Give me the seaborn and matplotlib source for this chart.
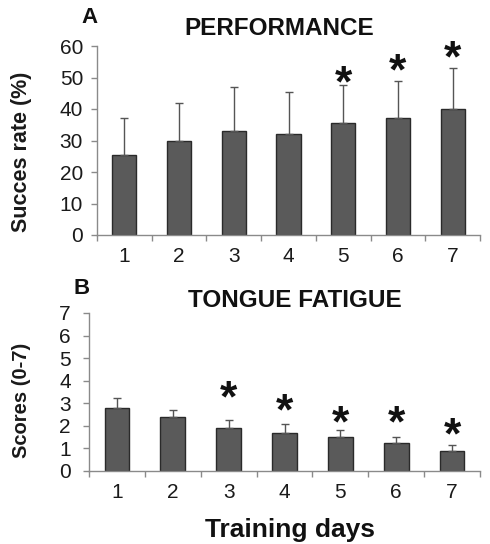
import matplotlib
matplotlib.use("Agg")
import matplotlib.pyplot as plt
import matplotlib.transforms as mtransforms
import seaborn as sns
import numpy as np
import pandas as pd

days = ["1", "2", "3", "4", "5", "6", "7"]
perf_mean = [25.5, 30, 33, 32, 35.5, 37, 40]
perf_sd = [11.5, 12, 14, 13.5, 12, 12, 13]
perf_star_days = ["5", "6", "7"]
perf_star_y = [50.8, 54.6, 58.7]

fat_mean = [2.8, 2.4, 1.9, 1.7, 1.5, 1.25, 0.9]
fat_sd = [0.45, 0.3, 0.35, 0.4, 0.3, 0.25, 0.25]
fat_star_days = ["3", "4", "5", "6", "7"]
fat_star_y = [3.58, 3.0, 2.5, 2.5, 1.96]

sns.set_theme(style="white")
plt.rcParams['font.family'] = ['Liberation Sans', 'DejaVu Sans']

W, H = 490, 544
fig = plt.figure(figsize=(4.9, 5.44), dpi=100)
axA = fig.add_axes([97 / W, 1 - 235 / H, 383 / W, 189 / H])
axB = fig.add_axes([89 / W, 1 - 471 / H, 391 / W, 158 / H])

bar_color = "#5a5a5a"
spine_color = "#8a8a8a"
text_color = "#1a1a1a"


def panel(ax, mean, sd, star_days, star_y, ymax, ystep, ypad):
    df = pd.DataFrame({"day": days, "val": mean})
    sns.barplot(data=df, x="day", y="val", ax=ax, color=bar_color, width=0.44,
                edgecolor="#2a2a2a", linewidth=1.0, saturation=1)
    xs = np.arange(len(days))
    ax.errorbar(xs, mean, yerr=[np.zeros(len(sd)), sd], fmt="none", ecolor="#555555",
                elinewidth=1.0, capsize=3, capthick=1.0, zorder=1)
    star_tr = mtransforms.offset_copy(ax.transData, fig=fig, x=0, y=-10, units="dots")
    for d, y in zip(star_days, star_y):
        ax.text(days.index(d), y, "*", ha="center", va="center", fontsize=32,
                fontweight="bold", color="#111111", transform=star_tr)
    ax.set_xlim(-0.5, 6.5)
    ax.set_ylim(0, ymax)
    ax.set_yticks(np.arange(0, ymax + 0.01, ystep))
    ax.set_xlabel("")
    ax.set_ylabel("")
    for s in ["top", "right"]:
        ax.spines[s].set_visible(False)
    for s in ["left", "bottom"]:
        ax.spines[s].set_color(spine_color)
        ax.spines[s].set_linewidth(1.0)
    ax.tick_params(axis="y", which="major", left=True, length=4, width=1, color=spine_color,
                   labelsize=15, labelcolor=text_color, pad=ypad)
    ax.tick_params(axis="x", which="major", bottom=False, length=0, labelsize=15,
                   labelcolor=text_color, pad=9)
    ax.set_xticks(np.arange(-0.5, 7, 1), minor=True)
    ax.tick_params(axis="x", which="minor", bottom=True, length=4, width=1, color=spine_color)


panel(axA, perf_mean, perf_sd, perf_star_days, perf_star_y, 60, 10, 6)
panel(axB, fat_mean, fat_sd, fat_star_days, fat_star_y, 7, 1, 9)

fig.text(22 / W, 1 - 152 / H, "Succes rate (%)", fontsize=15.5, fontweight="bold",
         color=text_color, rotation=90, ha="center", va="center")
fig.text(22 / W, 1 - 400 / H, "Scores (0-7)", fontsize=14.5, fontweight="bold",
         color=text_color, rotation=90, ha="center", va="center")
fig.text(279 / W, 1 - 35 / H, "PERFORMANCE", fontsize=17.5, fontweight="bold",
         color="#111111", ha="center", va="baseline")
fig.text(295 / W, 1 - 307 / H, "TONGUE FATIGUE", fontsize=17.5, fontweight="bold",
         color="#111111", ha="center", va="baseline")
fig.text(89 / W, 1 - 23 / H, "A", fontsize=16, fontweight="bold",
         color="#111111", ha="center", va="baseline")
fig.text(82 / W, 1 - 294 / H, "B", fontsize=16, fontweight="bold",
         color="#111111", ha="center", va="baseline")
fig.text(290 / W, 1 - 537 / H, "Training days", fontsize=19, fontweight="bold",
         color="#111111", ha="center", va="baseline")

fig.savefig("out.png", dpi=100)
